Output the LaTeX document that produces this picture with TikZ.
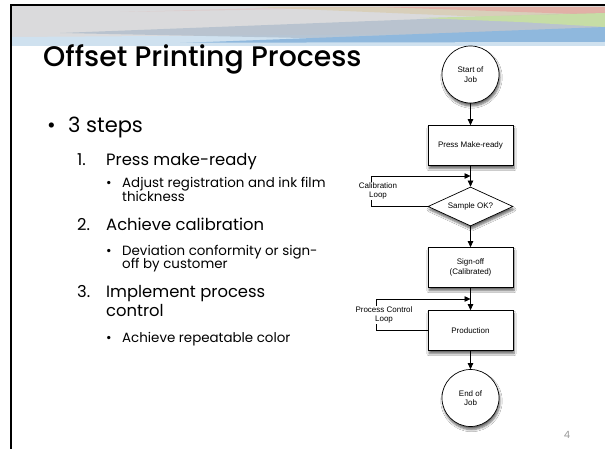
\documentclass[tikz,border=0pt]{standalone}
\usepackage{fontspec}
\setmainfont{Poppins}
\newfontfamily\headfont{Poppins Medium}
\newfontfamily\chartfont{Liberation Sans}
\usetikzlibrary{shapes.geometric,arrows.meta,shadows.blur}

\tikzset{
  softshadow/.style={blur shadow={shadow xshift=1pt,shadow yshift=-3pt,shadow blur steps=6,shadow opacity=60}},
  flowbox/.style={draw=black,line width=0.7pt,fill=white,rectangle,minimum width=85pt,minimum height=40pt,
    inner sep=0pt,align=center,font=\chartfont\fontsize{8}{9.5}\selectfont,softshadow},
  terminal/.style={flowbox,circle,minimum width=57pt,minimum height=57pt},
  decision/.style={flowbox,diamond,aspect=2.2,minimum width=85pt,minimum height=39pt},
  flow/.style={line width=0.7pt,-{Triangle[length=6pt,width=5.5pt]}},
  looplabel/.style={fill=white,inner sep=1pt,align=center,font=\chartfont\fontsize{8}{9.5}\selectfont},
  title/.style={anchor=base west,inner sep=0pt,font=\headfont\fontsize{28.3}{32}\selectfont},
  lvlone/.style={anchor=base west,inner sep=0pt,font=\fontsize{21}{24}\selectfont},
  lvltwo/.style={anchor=base west,inner sep=0pt,font=\fontsize{16.4}{20}\selectfont},
  lvlthree/.style={anchor=base west,inner sep=0pt,font=\fontsize{13.4}{16}\selectfont},
}

\definecolor{bannergray}{HTML}{DADADC}
\definecolor{bannerslate}{HTML}{AEBCCB}
\definecolor{bannerblue}{HTML}{8FB8DD}
\definecolor{bannerpale}{HTML}{CFE1EF}
\definecolor{bannerrose}{HTML}{E4A9A2}
\definecolor{bannergreen}{HTML}{C6DDA6}
\definecolor{bannertan}{HTML}{D8C9A4}
\definecolor{pagegray}{HTML}{9A9A9A}

\newcommand{\numlabel}[1]{\makebox[29pt][l]{#1}}
\newcommand{\dotlabel}[1]{\makebox[#1][l]{•}}

\begin{document}
\begin{tikzpicture}[x=1pt,y=-1pt]
\useasboundingbox (0,0) rectangle (605,449);
\fill[white] (0,0) rectangle (605,449);

% header banner
\fill[bannergray] (11,6) rectangle (605,45);
\fill[bannerrose,opacity=0.25] (120,12) -- (300,7) -- (420,7) -- cycle;
\fill[bannerpale] (11,37) -- (605,33) -- (605,45) -- (11,45) -- cycle;
\fill[bannerslate,opacity=0.75] (60,33) -- (605,12) -- (605,38) -- (400,40) -- cycle;
\fill[bannertan,opacity=0.6] (250,7) -- (605,7) -- (605,22) -- cycle;
\fill[bannerrose,opacity=0.8] (380,7) -- (605,7) -- (605,15) -- cycle;
\fill[bannergreen] (420,18) -- (605,13) -- (605,27) -- (520,22) -- cycle;
\fill[bannerblue] (180,43) -- (605,27) -- (605,42) -- (540,43) -- cycle;
\fill[bannerpale] (11,43) -- (605,42) -- (605,46) -- (11,46) -- cycle;

% slide frame
\draw[line width=2pt] (11,449) -- (11,5) -- (605,5);

% slide text
\node[title] (ttl) at (43,67) {Offset Printing Process};
\node[lvlone] (b0) at (47,133) {\dotlabel{21pt}3 steps};
\node[lvltwo] (s1) at (77,166) {\numlabel{1.}Press make-ready};
\node[lvlthree] (s1a) at (106,188) {\dotlabel{16pt}Adjust registration and ink film};
\node[lvlthree] (s1b) at (122,202) {thickness};
\node[lvltwo] (s2) at (77,230) {\numlabel{2.}Achieve calibration};
\node[lvlthree] (s2a) at (106,255) {\dotlabel{16pt}Deviation conformity or sign-};
\node[lvlthree] (s2b) at (122,268) {off by customer};
\node[lvltwo] (s3) at (77,297) {\numlabel{3.}Implement process};
\node[lvltwo] (s3b) at (106,316) {control};
\node[lvlthree] (s3a) at (106,342) {\dotlabel{16pt}Achieve repeatable color};
\node[anchor=base,inner sep=0pt,text=pagegray,font=\fontsize{10}{12}\selectfont] (pg) at (567,438) {4};

% flowchart
\node[terminal] (start) at (470.5,74.5) {Start of\\Job};
\node[flowbox] (make) at (470.5,145.5) {Press Make-ready};
\node[decision] (ok) at (470.5,206.5) {Sample OK?};
\node[flowbox] (sign) at (470.5,267.5) {Sign-off\\(Calibrated)};
\node[flowbox] (prod) at (470.5,330.5) {Production};
\node[terminal] (end) at (470.5,398) {End of\\Job};

\coordinate (calin) at (470.5,176);
\coordinate (pcin) at (470.5,299);

\draw[flow] (start) -- (make);
\draw[flow] (make) -- (ok);
\draw[flow] (ok) -- (sign);
\draw[flow] (sign) -- (prod);
\draw[flow] (prod) -- (end);

\draw[flow] (ok.west) -- ++(-56,0) |- (calin);
\draw[flow] (prod.west) -- ++(-51,0) |- (pcin);

\node[looplabel] (callbl) at (378,191) {Calibration\\Loop};
\node[looplabel] (pclbl) at (384,315) {Process Control\\Loop};
\end{tikzpicture}
\end{document}
